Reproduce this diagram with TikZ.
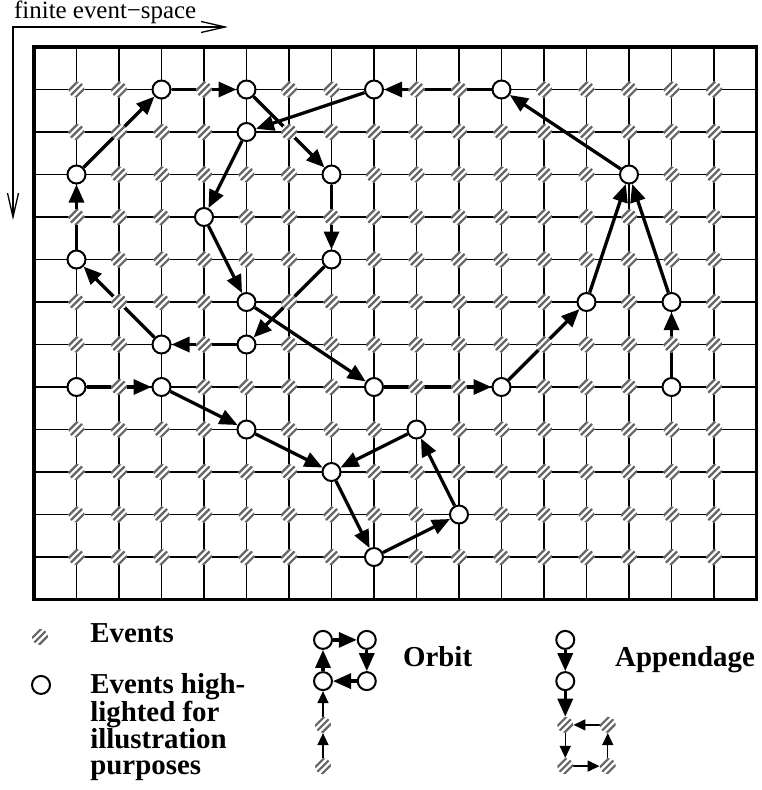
\documentclass[tikz,border=0pt]{standalone}
\usepackage{fontspec}
\setmainfont{Liberation Serif}
\usetikzlibrary{arrows.meta}
\pgfdeclarelayer{background}
\pgfdeclarelayer{behind}
\pgfsetlayers{background,behind,main}

\begin{document}
\begin{tikzpicture}[x=42.5bp, y=-42.5bp]
\tikzset{
    event/.style={
        circle, fill=white, minimum size=16bp, inner sep=0pt,
        path picture={
            \foreach \d/\e in {-3.4/3.4, 0/0, 3.4/-3.4}
                \draw[black!60, line width=2.2bp,
                      shift={(path picture bounding box.center)}]
                      ({\d*1bp-8bp},{\e*1bp-8bp}) -- ++(16bp,16bp);
        }
    },
    marked/.style={
        circle, draw, fill=white, line width=2bp,
        minimum size=18bp, inner sep=0pt
    },
    arrow/.style={
        line width=3.3bp, -{Triangle[length=18bp,width=15bp]}
    },
    thin arrow/.style={
        line width=1.4bp, -{Triangle[length=12bp,width=11bp]}
    },
    axis arrow/.style={
        line width=1.3bp,
        {Straight Barb[length=24bp,width=11bp]}-{Straight Barb[length=24bp,width=11bp]}
    },
    grid line/.style={line width=1.4bp},
    frame/.style={line width=3.8bp},
    legend text/.style={
        font=\fontsize{29}{26.7}\selectfont\bfseries,
        inner sep=0pt, align=left
    },
    axis label/.style={font=\fontsize{25}{28}\selectfont, inner sep=0pt}
}
\useasboundingbox (-0.8,-1.106) rectangle (17.106,17.482);

% Grila
\begin{pgfonlayer}{background}
\foreach \i in {1,...,16}
    \draw[grid line] (\i,0) -- (\i,13);
\foreach \j in {1,...,12}
    \draw[grid line] (0,\j) -- (17,\j);
\draw[frame] (0,0) rectangle (17,13);
\end{pgfonlayer}

% Evenimente
\foreach \i in {1,...,16}
    \foreach \j in {1,...,12}
        \node[event] (e\i-\j) at (\i,\j) {};

% Evenimente evidentiate
\foreach \i/\j in {3/1, 5/1, 8/1, 11/1, 5/2, 1/3, 7/3, 14/3, 4/4, 1/5, 7/5,
                   5/6, 13/6, 15/6, 3/7, 5/7, 1/8, 3/8, 8/8, 11/8, 15/8,
                   5/9, 9/9, 7/10, 10/11, 8/12}
    \node[marked] (h\i-\j) at (\i,\j) {};

% Sageti
\begin{pgfonlayer}{behind}
\foreach \a/\b in {3-1/5-1, 5-1/7-3, 7-3/7-5, 7-5/5-7, 5-7/3-7, 3-7/1-5,
                   1-5/1-3, 1-3/3-1,
                   8-1/5-2, 5-2/4-4, 4-4/5-6, 5-6/8-8, 8-8/11-8, 11-8/13-6,
                   13-6/14-3, 14-3/11-1, 11-1/8-1, 15-8/15-6, 15-6/14-3,
                   1-8/3-8, 3-8/5-9, 5-9/7-10, 7-10/8-12, 8-12/10-11,
                   10-11/9-9, 9-9/7-10}
    \draw[arrow] (h\a) -- (h\b);
\end{pgfonlayer}

% Axe
\coordinate (corner) at (-0.494,-0.471);
\coordinate (xend) at (4.565,-0.471);
\coordinate (yend) at (-0.494,4.07);
\draw[axis arrow] (xend) -- (corner) -- (yend);
\node[axis label, anchor=base west] (space) at (-0.471,-0.671) {finite event−space};

% Legenda
\node[event] (lev) at (0.141,13.88) {};
\node[marked] (lmk) at (0.165,15.01) {};
\node[legend text, anchor=base west] (tev) at (1.32,14.02) {Events};
\node[legend text, anchor=north west] (tmk) at (1.32,14.74)
    {Events high-\\lighted for\\illustration\\purposes};

\node[marked] (o1) at (6.8,13.95) {};
\node[marked] (o2) at (7.83,13.95) {};
\node[marked] (o3) at (7.83,14.92) {};
\node[marked] (o4) at (6.8,14.92) {};
\node[event] (o5) at (6.8,15.95) {};
\node[event] (o6) at (6.8,16.92) {};
\begin{pgfonlayer}{behind}
\draw[arrow] (o1) -- (o2);
\draw[arrow] (o2) -- (o3);
\draw[arrow] (o3) -- (o4);
\draw[arrow] (o4) -- (o1);
\draw[thin arrow] (o5) -- (o4);
\draw[thin arrow] (o6) -- (o5);
\end{pgfonlayer}
\node[legend text, anchor=base west] (torb) at (8.68,14.57) {Orbit};

\node[marked] (a1) at (12.5,13.95) {};
\node[marked] (a2) at (12.5,14.92) {};
\node[event] (a3) at (12.5,15.95) {};
\node[event] (a4) at (12.5,16.92) {};
\node[event] (a5) at (13.5,16.92) {};
\node[event] (a6) at (13.5,15.95) {};
\begin{pgfonlayer}{behind}
\draw[arrow] (a1) -- (a2);
\draw[arrow] (a2) -- (a3);
\draw[thin arrow] (a3) -- (a4);
\draw[thin arrow] (a4) -- (a5);
\draw[thin arrow] (a5) -- (a6);
\draw[thin arrow] (a6) -- (a3);
\end{pgfonlayer}
\node[legend text, anchor=base west] (tapp) at (13.67,14.57) {Appendage};
\end{tikzpicture}
\end{document}
